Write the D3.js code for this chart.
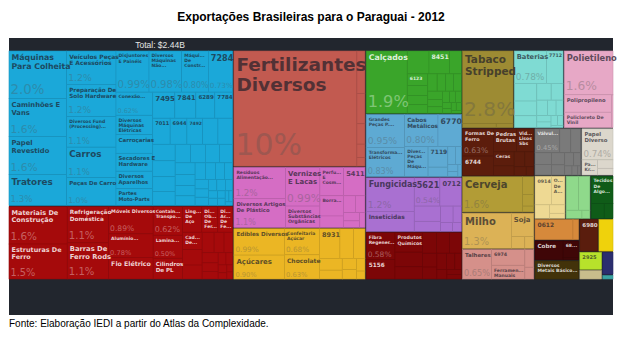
<!DOCTYPE html>
<html><head><meta charset="utf-8">
<script src="https://cdn.jsdelivr.net/npm/d3@7"></script>
<style>
html,body{margin:0;padding:0;background:#fff;}
svg{display:block;}
</style></head><body>
<svg id="chart" width="622" height="345"></svg>
<script>
// ---------------- DATA (shares of total, %) ----------------
const title = "Exportações Brasileiras para o Paraguai - 2012";
const totalLabel = "Total: $2.44B";
const sourceLabel = "Fonte: Elaboração IEDI a partir do Atlas da Complexidade.";

const maquinas = [
  ["Máquinas Para Colheita", 2.0], ["Caminhões E Vans", 1.6], ["Papel Revestido", 1.6], ["Tratores", 1.3],
  ["Veículos Peças E Acessórios", 1.2], ["Preparação De Solo Hardware", 1.16], ["Diversos Fund (Processing) Hardware", 1.1],
  ["Carros", 1.1], ["Peças De Carro", 1.0],
  ["Disjuntores E Painéis", 0.99], ["Diversos Máquinas Não Elétricas", 0.98], ["Máquinas De Construção", 0.80], ["7284", 0.73],
  ["Conexão Fios Elétricos", 0.62], ["Diversos Máquinas Elétricas", 0.52], ["Carroçarias", 0.50], ["Secadores E Hardware", 0.48],
  ["Diversos Aparelhos", 0.47], ["Partes Moto-Parts", 0.45],
  ["7495", 0.42], ["7841", 0.40], ["6289", 0.36], ["7784", 0.34], ["7011", 0.33], ["6944", 0.32], ["7492", 0.30],
  ["", 0.29], ["", 0.28], ["", 0.27], ["", 0.26], ["", 0.24], ["", 0.23], ["", 0.21], ["", 0.20], ["", 0.19], ["", 0.18],
  ["", 0.17], ["", 0.16], ["", 0.15], ["", 0.14], ["", 0.13], ["", 0.12], ["", 0.11], ["", 0.10], ["", 0.09], ["", 0.08],
  ["", 0.08], ["", 0.07], ["", 0.07], ["", 0.06], ["", 0.05], ["", 0.05], ["", 0.04], ["", 0.04], ["", 0.03], ["", 0.03], ["", 0.02]
];
const metais = [
  ["Materiais De Construção", 1.6], ["Estruturas De Ferro", 1.5], ["Refrigeração Doméstica", 1.1], ["Barras De Ferro Rods", 1.1],
  ["Móveis Diversos", 0.89], ["Alumínio Processado", 0.78], ["Fio Elétrico", 0.70], ["Containers Transporte", 0.62],
  ["Laminados De Ferro", 0.50], ["Cilindros De PL", 0.45], ["Lingotes De Aço", 0.36], ["Diversos Obras De Ferro", 0.30],
  ["Diversos Artigos De Ferro", 0.28], ["Cadeiras De Metal", 0.25],
  ["", 0.22], ["", 0.20], ["", 0.18], ["", 0.15], ["", 0.13], ["", 0.12], ["", 0.10], ["", 0.09], ["", 0.07], ["", 0.06],
  ["", 0.05], ["", 0.04], ["", 0.03], ["", 0.03]
];
const fertilizantes = [["Fertilizantes Diversos", 10.4], ["", 0.25], ["", 0.18], ["", 0.12], ["", 0.08], ["", 0.05]];
const quimicos = [
  ["Resíduos Alimentação Animal", 1.2], ["Diversos Artigos De Plástico", 1.1], ["Vernizes E Lacas", 0.99],
  ["Diversos Substâncias Orgânicas", 0.55], ["Perfumaria E Cosméticos", 0.50], ["5411", 0.45], ["Borrachas", 0.35],
  ["", 0.20], ["", 0.15], ["", 0.12], ["", 0.10], ["", 0.08], ["", 0.06]
];
const alimentos = [
  ["Edibles Diversos", 0.99], ["Açúcares", 0.90], ["Confeitaria Açúcar", 0.68], ["Chocolate", 0.63], ["8931", 0.45],
  ["", 0.30], ["", 0.25], ["", 0.20], ["", 0.15], ["", 0.12], ["", 0.10], ["", 0.08], ["", 0.05]
];
const calcados = [
  ["Calçados", 1.9], ["", 0.37], ["8451", 0.35], ["8462", 0.20], ["6123", 0.18],
  ["", 0.15], ["", 0.14], ["", 0.13], ["", 0.12], ["", 0.11], ["", 0.10], ["", 0.10], ["", 0.09], ["", 0.08],
  ["", 0.07], ["", 0.06], ["", 0.05], ["", 0.05], ["", 0.04], ["", 0.03], ["", 0.03], ["", 0.03], ["", 0.02]
];
const eletricos = [
  ["Grandes Peças P. Geradores", 0.95], ["Transformadores Elétricos", 0.83], ["Cabos Metálicos", 0.80], ["6770", 0.56],
  ["Diversos Peças De Máquinas", 0.52], ["7119", 0.30], ["", 0.14], ["", 0.10], ["", 0.08], ["", 0.05], ["", 0.04], ["", 0.03]
];
const agroquimicos = [
  ["Fungicidas", 1.2], ["Inseticidas", 0.72], ["5621", 0.54], ["0712", 0.45],
  ["", 0.30], ["", 0.20], ["", 0.15], ["", 0.10], ["", 0.08], ["", 0.06]
];
const texteis = [
  ["Fibra Regenerada", 0.58], ["5156", 0.42], ["Produtos Químicos", 0.40],
  ["", 0.30], ["", 0.25], ["", 0.22], ["", 0.20], ["", 0.18], ["", 0.15], ["", 0.13], ["", 0.12], ["", 0.10],
  ["", 0.08], ["", 0.07], ["", 0.05], ["", 0.05]
];
const tabaco = [["Tabaco Stripped", 2.75], ["", 0.10], ["", 0.05]];
const baterias = [
  ["Baterias", 0.78], ["7712", 0.40], ["", 0.30], ["", 0.25], ["", 0.20], ["", 0.18], ["", 0.15], ["", 0.12],
  ["", 0.10], ["", 0.08], ["", 0.07], ["", 0.06], ["", 0.05], ["", 0.04], ["", 0.02]
];
const plasticos = [["Polietileno", 1.6], ["Polipropileno", 0.62], ["Policloreto De Vinil", 0.55], ["", 0.03]];
const ferro = [
  ["Formas De Ferro", 0.63], ["6744", 0.45], ["Pedras Brutas", 0.40], ["Vidros Lisos Sbs", 0.30], ["Ceras", 0.22],
  ["", 0.15], ["", 0.12], ["", 0.10], ["", 0.08], ["", 0.05]
];
const cerveja = [["Cerveja", 1.6], ["", 0.15], ["", 0.10], ["", 0.05]];
const milho = [["Milho", 1.3], ["Soja", 0.40], ["", 0.12], ["", 0.08]];
const talheres = [["Talheres", 0.65], ["6974", 0.40], ["Ferramentas Manuais", 0.35], ["", 0.12], ["", 0.08]];
const valvulas = [
  ["Válvulas E Parafusos", 0.45], ["", 0.20], ["", 0.18], ["", 0.15], ["", 0.13], ["", 0.12], ["", 0.10],
  ["", 0.09], ["", 0.07], ["", 0.05], ["", 0.04], ["", 0.02]
];
const papel = [["Papel Diverso", 0.74], ["Papel Kraft", 0.18], ["", 0.10], ["", 0.08]];
const ovos = [["0914", 0.36], ["Ovos De Aves", 0.30], ["", 0.15], ["", 0.10], ["", 0.06]];
const residuos = [["Resíduos E Farelos", 0.33], ["Diversos Vegetais", 0.30], ["", 0.10], ["", 0.05]];
const tecidos = [["Tecidos De Algodão", 0.47], ["", 0.15], ["", 0.10]];
const acucar = [["0612", 0.60], ["", 0.09]];
const cobre = [["Cobre", 0.42], ["6812", 0.20], ["", 0.03]];
const metaisBasicos = [["Diversos Metais Básicos Resistentes", 0.62]];
const ligas = [["6980", 0.45]];
const amarelo = [["", 0.36]];
const quimInorg = [["2925", 0.30]];
const khaki = [["", 0.16]];
const azul = [["", 0.19]];
const verdeAgua = [["", 0.04]];

const sectorNames = ["Máquinas", "Metais", "Fertilizantes", "Químicos", "Alimentos", "Calçados", "Elétricos",
  "Agroquímicos", "Têxteis", "Tabaco", "Baterias", "Plásticos", "Ferro", "Cerveja", "Milho", "Talheres",
  "Válvulas", "Papel", "Ovos", "Resíduos", "Tecidos", "Açúcar", "Cobre", "Metais Básicos", "Ligas",
  "Amarelo", "Químicos Inorgânicos", "Khaki", "Azul", "Verde Água"];
const sectorItems = [maquinas, metais, fertilizantes, quimicos, alimentos, calcados, eletricos, agroquimicos,
  texteis, tabaco, baterias, plasticos, ferro, cerveja, milho, talheres, valvulas, papel, ovos, residuos,
  tecidos, acucar, cobre, metaisBasicos, ligas, amarelo, quimInorg, khaki, azul, verdeAgua];

// ---------------- STYLE ----------------
const sectorColors = ["#1ba8d9", "#a50a0b", "#c25a50", "#d56dc4", "#ebb624", "#3aa52a", "#5eaad3", "#a970d1",
  "#7c0607", "#9d8b33", "#7fdbd3", "#e7a8c6", "#5c1d0c", "#b29c36", "#dcb256", "#d5908a", "#7a7a7a", "#dcd7cc",
  "#eed993", "#8fd98b", "#0f5c18", "#d6893b", "#3f0607", "#42320a", "#5a1d0d", "#efd20c", "#b7e22b", "#c8bd8c",
  "#2b2e6f", "#3aa3a3"];
const lightText = new Set(["Metais", "Calçados", "Têxteis", "Ferro", "Válvulas", "Tecidos", "Cobre",
  "Metais Básicos", "Ligas", "Azul"]);

const frame = {x: 9, y: 38, w: 604, h: 277};
const tm = {x: 9, y: 51, w: 604, h: 228};
const bg = "#22262e";
const labelFont = '"DejaVu Sans", sans-serif';

const svg = d3.select("#chart");

svg.append("text").attr("x", 311).attr("y", 21).attr("text-anchor", "middle")
  .attr("font-family", '"Liberation Sans", Arial, sans-serif').attr("font-weight", "bold")
  .attr("font-size", 12).attr("fill", "#000").text(title);

svg.append("rect").attr("x", frame.x).attr("y", frame.y).attr("width", frame.w).attr("height", frame.h).attr("fill", bg);
svg.append("text").attr("x", 160).attr("y", 47.5).attr("text-anchor", "middle")
  .attr("font-family", '"Liberation Sans", Arial, sans-serif').attr("font-size", 8.5).attr("fill", "#e6e6e6").text(totalLabel);

svg.append("text").attr("x", 9).attr("y", 326.5)
  .attr("font-family", '"Liberation Sans", Arial, sans-serif').attr("font-size", 10).attr("fill", "#000").text(sourceLabel);

// ---------------- HIERARCHY ----------------
const rootData = {name: "root", children: sectorNames.map((n, i) => ({
  name: n, sector: i, children: sectorItems[i].map(([name, value]) => ({name, value, sector: i}))
}))};

const root = d3.hierarchy(rootData)
  .sum(d => d.children ? 0 : d.value)
  .sort((a, b) => a.depth >= 2 ? b.value - a.value : 0);

d3.treemap().size([tm.w, tm.h]).tile(d3.treemapSquarify)
  .paddingInner(d => d.depth === 0 ? 1.2 : 0)(root);

const g = svg.append("g").attr("transform", `translate(${tm.x},${tm.y})`);
const leaves = root.leaves();

g.selectAll("rect.cell").data(leaves).join("rect").attr("class", "cell")
  .attr("x", d => d.x0).attr("y", d => d.y0)
  .attr("width", d => Math.max(0, d.x1 - d.x0)).attr("height", d => Math.max(0, d.y1 - d.y0))
  .attr("fill", d => sectorColors[d.data.sector])
  .attr("stroke", d => d3.color(sectorColors[d.data.sector]).darker(0.35))
  .attr("stroke-width", 0.6);

// ---------------- LABELS ----------------
const ctx = document.createElement("canvas").getContext("2d");
function tw(t, size, weight) { ctx.font = `${weight} ${size}px "DejaVu Sans"`; return ctx.measureText(t).width; }
function wrap(words, f, maxW) {
  const lines = []; let cur = "";
  for (const w of words) {
    const t = cur ? cur + " " + w : w;
    if (!cur || tw(t, f, "bold") <= maxW) cur = t; else { lines.push(cur); cur = w; }
  }
  if (cur) lines.push(cur);
  return lines;
}
function truncate(line, f, maxW) {
  if (tw(line, f, "bold") <= maxW) return line;
  let s = line;
  while (s.length > 1 && tw(s + "...", f, "bold") > maxW) s = s.slice(0, -1);
  return s.trim() + "...";
}
function fitName(name, w, h, hasPct) {
  const words = name.split(" ");
  const Hn = hasPct ? h * 0.42 : h - 3;
  const maxW = (w - 4) * 1.12;
  const fMax = Math.min(20, 0.27 * h + 0.5);
  for (let f = fMax; f >= 4.5; f -= 0.5) {
    const lines = wrap(words, f, maxW);
    if (lines.every(l => tw(l, f, "bold") <= maxW) && lines.length * f * 1.12 <= Hn) return {f, lines};
  }
  const f = 4.5;
  const maxLines = Math.max(1, Math.floor(Hn / (f * 1.12)));
  let lines = wrap(words, f, w - 4);
  if (lines.length > maxLines) { lines = lines.slice(0, maxLines); lines[maxLines - 1] += "..."; }
  lines = lines.map(l => truncate(l, f, w - 3));
  return {f, lines};
}
function fmt(v) { return v >= 10 ? v.toFixed(0) + "%" : v >= 1 ? v.toFixed(1) + "%" : v.toFixed(2) + "%"; }

const lab = g.append("g");
leaves.forEach(d => {
  const w = d.x1 - d.x0, h = d.y1 - d.y0;
  const fill = sectorColors[d.data.sector];
  const light = lightText.has(sectorNames[d.data.sector]);
  const nameColor = light ? d3.interpolateRgb(fill, "#ffffff")(0.82) : d3.interpolateRgb(fill, "#1e1e28")(0.68);
  const pctColor = light ? d3.interpolateRgb(fill, "#ffffff")(0.35) : d3.interpolateRgb(fill, "#505050")(0.32);
  const hasPct = w >= 24 && h >= 22;
  if (d.data.name && w >= 13 && h >= 7) {
    const {f, lines} = fitName(d.data.name, w, h, hasPct);
    const t = lab.append("text").attr("font-family", labelFont).attr("font-weight", "bold")
      .attr("font-size", f).attr("fill", nameColor);
    lines.forEach((l, i) => t.append("tspan").attr("x", d.x0 + 2.5).attr("y", d.y0 + 2 + f * 0.95 + i * f * 1.12).text(l));
  }
  if (hasPct) {
    const txt = fmt(d.data.value);
    const fitW = (w - 3) / tw(txt, 1, "normal");
    const pf = Math.min(0.28 * h, fitW * 1.08, 30);
    lab.append("text").attr("font-family", labelFont).attr("font-size", pf).attr("fill", pctColor)
      .attr("x", d.x0 + 1.5).attr("y", d.y1 - h * 0.1).text(txt);
  }
});
</script>
</body></html>
